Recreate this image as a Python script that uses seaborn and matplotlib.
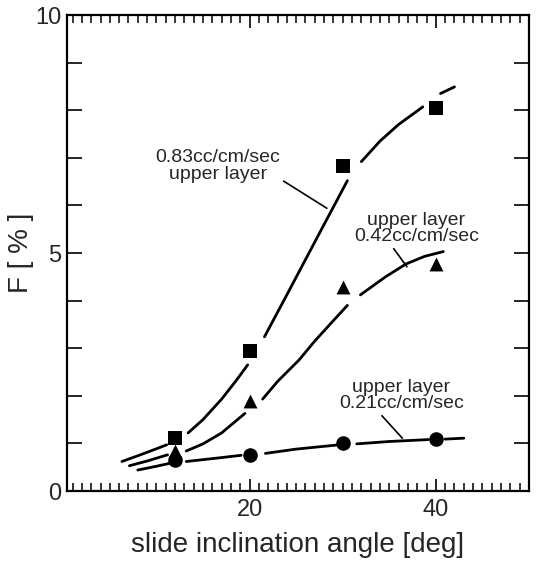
import numpy as np
import pandas as pd
import matplotlib
matplotlib.use("Agg")
import matplotlib.pyplot as plt
from matplotlib.ticker import MultipleLocator
import seaborn as sns

# ---- measured data ----
angle = [12, 20, 30, 40]
f_083 = [1.12, 2.95, 6.83, 8.05]
f_042 = [0.85, 1.90, 4.28, 4.76]
f_021 = [0.65, 0.76, 1.00, 1.09]

# ---- hand-drawn fitted curves (broken at the markers) ----
c083_x = [6.3, 8.0, 9.5, 11.1, 13.4, 15.0, 17.0, 18.6, 19.8, 21.6, 24.0, 26.0, 28.0, 29.5, 30.5,
          32.0, 34.0, 36.0, 38.6, 40.5, 42.0]
c083_y = [0.62, 0.74, 0.85, 0.97, 1.22, 1.50, 1.93, 2.33, 2.65, 3.24, 4.12, 4.86, 5.60, 6.15, 6.52,
          6.92, 7.35, 7.70, 8.07, 8.35, 8.49]
c083_seg = [1, 1, 1, 1, 2, 2, 2, 2, 2, 3, 3, 3, 3, 3, 3, 4, 4, 4, 4, 5, 5]

c042_x = [7.1, 9.0, 11.2, 13.2, 15.0, 17.0, 19.5, 21.4, 23.0, 25.3, 27.0, 29.0, 30.5,
          31.9, 34.6, 36.8, 38.8, 40.8]
c042_y = [0.53, 0.63, 0.76, 0.84, 0.99, 1.22, 1.63, 1.93, 2.30, 2.75, 3.15, 3.58, 3.90,
          4.12, 4.50, 4.77, 4.93, 5.03]
c042_seg = [1, 1, 1, 2, 2, 2, 2, 3, 3, 3, 3, 3, 3, 4, 4, 4, 4, 4]

c021_x = [8.0, 10.0, 11.4, 13.2, 16.0, 19.1, 21.7, 25.0, 29.6, 31.5, 35.0, 39.2, 41.0, 43.0]
c021_y = [0.44, 0.52, 0.58, 0.62, 0.68, 0.75, 0.79, 0.88, 0.97, 0.99, 1.04, 1.08, 1.09, 1.11]
c021_seg = [1, 1, 1, 2, 2, 2, 3, 3, 3, 4, 4, 4, 5, 5]

labels = ["0.83cc/cm/sec\nupper layer", "upper layer\n0.42cc/cm/sec", "upper layer\n0.21cc/cm/sec"]

x_ticks = [20, 40]
y_ticks = [0, 5, 10]

sns.set_style("ticks")
plt.rcParams['font.family'] = ['Liberation Sans', 'DejaVu Sans']

fig = plt.figure(figsize=(5.36, 5.62), dpi=100)
ax = fig.add_axes([67/536, 1-491/562, (529-67)/536, (491-15)/562])

lw = 2.0
for cx, cy, cs in [(c083_x, c083_y, c083_seg), (c042_x, c042_y, c042_seg), (c021_x, c021_y, c021_seg)]:
    df = pd.DataFrame({"x": cx, "y": cy, "seg": cs})
    sns.lineplot(data=df, x="x", y="y", units="seg", estimator=None, sort=False,
                 ax=ax, color="black", linewidth=lw, zorder=2)

sns.scatterplot(x=angle, y=f_083, ax=ax, color="black", marker="s", s=90, linewidth=0, zorder=4)
sns.scatterplot(x=angle, y=f_042, ax=ax, color="black", marker="^", s=100, linewidth=0, zorder=4)
sns.scatterplot(x=angle, y=f_021, ax=ax, color="black", marker="o", s=110, linewidth=0, zorder=4)

# annotations with leader lines
tfs = 14
ax.annotate(labels[0], xy=(28.3, 5.94), xytext=(16.6, 6.83), ha="center", va="center",
            fontsize=tfs, linespacing=0.95,
            arrowprops=dict(arrowstyle="-", color="black", lw=1.2, shrinkA=0, shrinkB=0,
                            relpos=(0.96, 0.2)))
ax.annotate(labels[1], xy=(36.9, 4.71), xytext=(37.9, 5.51), ha="center", va="center",
            fontsize=tfs, linespacing=0.95,
            arrowprops=dict(arrowstyle="-", color="black", lw=1.2, shrinkA=0, shrinkB=0,
                            relpos=(0.3, 0.0)))
ax.annotate(labels[2], xy=(36.4, 1.11), xytext=(36.3, 2.0), ha="center", va="center",
            fontsize=tfs, linespacing=0.95,
            arrowprops=dict(arrowstyle="-", color="black", lw=1.2, shrinkA=0, shrinkB=0,
                            relpos=(0.32, 0.0)))

ax.set_xlim(0.4, 50)
ax.set_ylim(0, 10)
ax.set_xticks(x_ticks)
ax.set_yticks(y_ticks)
ax.xaxis.set_minor_locator(MultipleLocator(1))
ax.yaxis.set_minor_locator(MultipleLocator(1))
ax.tick_params(axis="x", which="major", direction="in", length=9, width=1.4,
               top=True, bottom=True, labelsize=17, pad=6)
ax.tick_params(axis="x", which="minor", direction="in", length=6, width=1.3,
               top=True, bottom=True)
ax.tick_params(axis="y", which="major", direction="in", length=11, width=1.4,
               left=True, right=True, labelsize=17, pad=4)
ax.tick_params(axis="y", which="minor", direction="in", length=11, width=1.4,
               left=True, right=True)
for s in ax.spines.values():
    s.set_visible(True)
    s.set_linewidth(1.6)
    s.set_color("black")

ax.set_xlabel("slide inclination angle [deg]", fontsize=20, labelpad=8)
ax.set_ylabel("F [ % ]", fontsize=20, labelpad=1)

fig.savefig("out.png", dpi=100)
